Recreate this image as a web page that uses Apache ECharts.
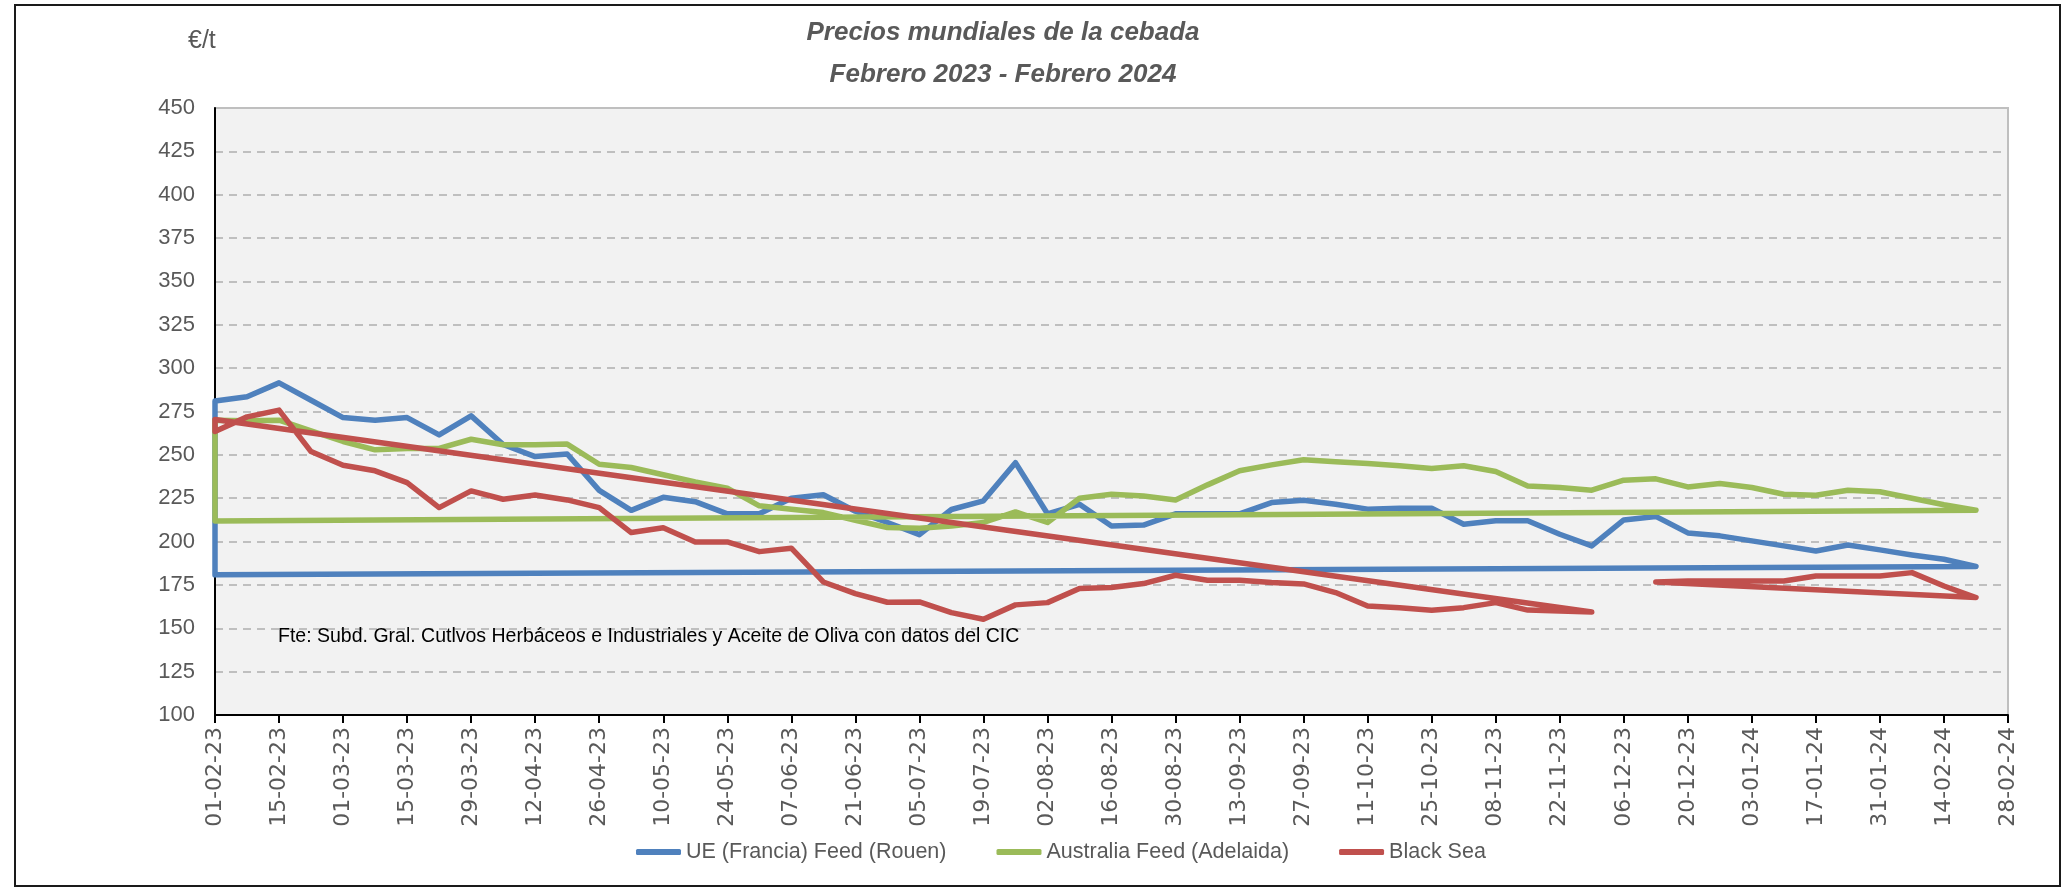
<!DOCTYPE html>
<html>
<head>
<meta charset="utf-8">
<script src="https://cdn.jsdelivr.net/npm/echarts@6/dist/echarts.min.js"></script>
<style>html,body{margin:0;padding:0;background:#fff}#c{width:2069px;height:890px}</style>
</head>
<body>
<div id="c"></div>
<script>
// ---- data ----
const weekDates = ['2023-02-01','2023-02-08','2023-02-15','2023-02-22','2023-03-01','2023-03-08','2023-03-15','2023-03-22','2023-03-29','2023-04-05','2023-04-12','2023-04-19','2023-04-26','2023-05-03','2023-05-10','2023-05-17','2023-05-24','2023-05-31','2023-06-07','2023-06-14','2023-06-21','2023-06-28','2023-07-05','2023-07-12','2023-07-19','2023-07-26','2023-08-02','2023-08-09','2023-08-16','2023-08-23','2023-08-30','2023-09-06','2023-09-13','2023-09-20','2023-09-27','2023-10-04','2023-10-11','2023-10-18','2023-10-25','2023-11-01','2023-11-08','2023-11-15','2023-11-22','2023-11-29','2023-12-06','2023-12-13','2023-12-20','2023-12-27','2024-01-03','2024-01-10','2024-01-17','2024-01-24','2024-01-31','2024-02-07','2024-02-14','2024-02-21'];
const seriesNames = ['UE (Francia) Feed (Rouen)','Australia Feed (Adelaida)','Black Sea'];
const ueFrancia = [281,283.5,291.5,281.5,271.5,270,271.5,261.5,272.5,256,249,250.5,229.5,218,225.5,223,216,216,225,227,217.5,211,204,218.5,223.5,245.5,216,221.5,209,209.5,216,216,216,222.5,223.8,221.5,218.7,219.2,219.2,210,212,212,204.2,197.5,212.5,214.5,205,203.3,200.4,197.5,194.6,198,195.2,192.3,189.8,185.6];
const australia = [270,269.6,270,263.8,257.7,252.9,253.7,253.7,259,255.8,255.8,256.2,244.6,242.7,238.5,234.4,230.8,220.6,218.6,216.7,212.3,208.1,207.7,209,211,217.1,211,225,227.3,226.3,224,232.7,240.8,244.2,247.2,246,245,243.7,242.1,243.7,240.4,232.1,231.2,229.6,235.4,236.2,231.5,233.5,231.2,227.3,226.7,229.6,228.7,225,221.2,218.1];
const blackSea = [263.5,271.9,275.8,251.9,244,240.8,234,219.6,229.2,224.4,226.9,224,219.6,205.2,208,199.8,199.8,194.2,196.2,176.7,170,165,165.2,159,155.2,163.5,164.8,172.9,173.5,175.8,180.6,177.7,177.7,176.4,175.6,170.6,162.9,161.9,160.4,161.9,164.8,160.5,160,159.4,null,176.7,177.3,177.3,177.3,177.3,180.2,180.2,180.2,182.1,174.4,167.7];
// value at the first date of each run where the chart's return line closes
const ueFranciaReturn = [180.8];
const australiaReturn = [211.9];
const blackSeaReturn = [270.4, 176.7];
const axisStart = '2023-02-01', axisEnd = '2024-02-28';
const yTicks = {min: 100, max: 450, step: 25};

// ---- helpers ----
const DAY = 86400000;
const dayOf = s => Math.round((Date.parse(s + 'T00:00:00Z') - Date.parse(axisStart + 'T00:00:00Z')) / DAY);
const fmt = d => { const t = new Date(Date.parse(axisStart + 'T00:00:00Z') + d * DAY);
  const p = n => String(n).padStart(2, '0');
  return p(t.getUTCDate()) + '-' + p(t.getUTCMonth() + 1) + '-' + p(t.getUTCFullYear() % 100); };

// split a series into runs (null breaks), each run drawn as a closed loop
function loops(values, returns) {
  const runs = []; let cur = null;
  values.forEach((v, i) => {
    if (v == null) { cur = null; return; }
    if (!cur) { cur = []; runs.push(cur); }
    cur.push([dayOf(weekDates[i]), v]);
  });
  return runs.map((r, j) => {
    const start = [r[0][0], returns[j]];
    return [start].concat(r, [start]);
  });
}

const colors = ['#4f81bd', '#9bbb59', '#c0504d'];
const all = [[ueFrancia, ueFranciaReturn], [australia, australiaReturn], [blackSea, blackSeaReturn]];
const series = [];
all.forEach(([vals, ret], si) => {
  loops(vals, ret).forEach(d => series.push({
    name: seriesNames[si], type: 'line', data: d, showSymbol: false, symbol: 'none',
    lineStyle: {width: 5.5, color: colors[si], cap: 'round', join: 'round'},
    itemStyle: {color: colors[si]}, z: 2 + si, animation: false
  }));
});

const chart = echarts.init(document.getElementById('c'), null, {renderer: 'canvas'});
chart.setOption({
  animation: false,
  backgroundColor: '#ffffff',
  title: {
    text: 'Precios mundiales de la cebada\nFebrero 2023 - Febrero 2024',
    left: 998, top: 7, textAlign: 'center',
    textStyle: {fontFamily: 'Liberation Sans', fontSize: 26, fontStyle: 'italic', fontWeight: 'bold', color: '#595959', lineHeight: 42}
  },
  grid: {left: 215, right: 61, top: 108, bottom: 175, show: true, backgroundColor: '#f2f2f2', borderColor: '#bfbfbf', borderWidth: 2},
  xAxis: {
    type: 'value', min: 0, max: dayOf(axisEnd), interval: 14,
    axisLine: {show: true, onZero: false, lineStyle: {color: '#000', width: 2}},
    axisTick: {show: true, length: 8, lineStyle: {color: '#000', width: 2}},
    axisLabel: {rotate: 90, margin: 12, formatter: v => fmt(v), fontFamily: 'DejaVu Sans', fontSize: 22, color: '#595959'},
    splitLine: {show: false}
  },
  yAxis: {
    type: 'value', min: yTicks.min, max: yTicks.max, interval: yTicks.step,
    axisLine: {show: true, lineStyle: {color: '#000', width: 2}},
    axisTick: {show: false},
    axisLabel: {margin: 20, fontFamily: 'Liberation Sans', fontSize: 22, color: '#595959'},
    splitLine: {show: true, lineStyle: {color: '#bfbfbf', width: 2, type: [8, 6]}}
  },
  legend: {
    bottom: 22, left: 631, itemWidth: 45, itemHeight: 6, itemGap: 50, icon: 'roundRect',
    data: seriesNames,
    textStyle: {fontFamily: 'Liberation Sans', fontSize: 21.5, color: '#595959'}
  },
  graphic: [
    {type: 'rect', shape: {x: 15, y: 5, width: 2045, height: 881}, style: {fill: null, stroke: '#1a1a1a', lineWidth: 2}, z: 0, silent: true},
    {type: 'text', left: 188, top: 29, style: {text: '€/t', font: '25px "Liberation Sans"', fill: '#595959'}},
    {type: 'text', left: 278, top: 627, z: 10, style: {text: 'Fte: Subd. Gral. Cutlvos Herbáceos e Industriales y Aceite de Oliva con datos del CIC', font: '19.5px "Liberation Sans"', fill: '#000000'}}
  ],
  series: series
});
</script>
</body>
</html>
